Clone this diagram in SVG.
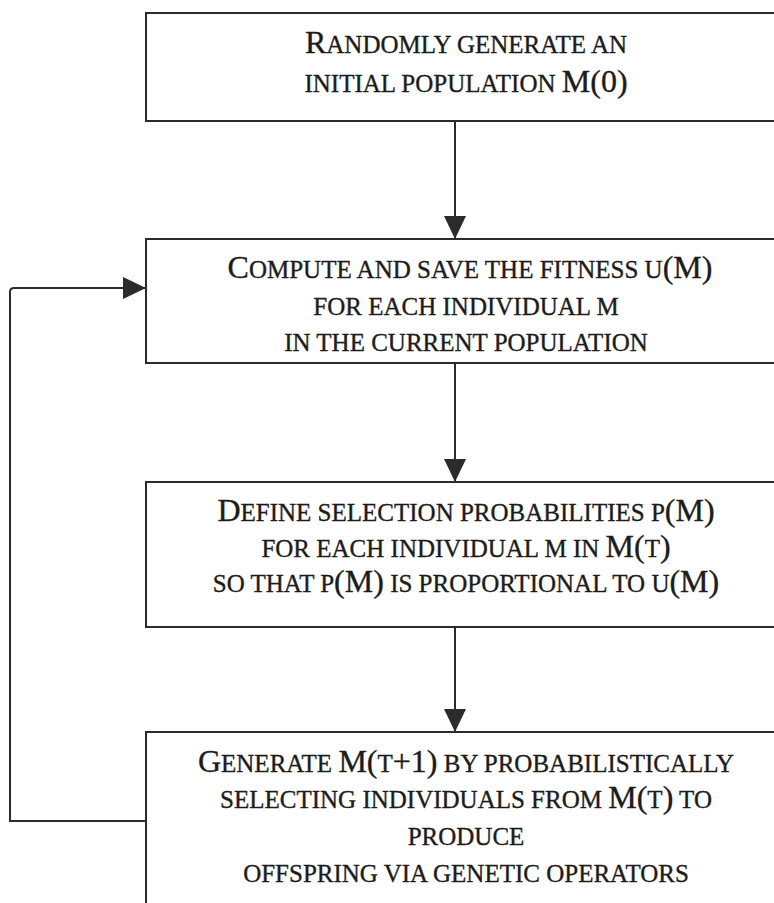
<svg xmlns="http://www.w3.org/2000/svg" width="774" height="903" viewBox="0 0 774 903">
<style>
  .box { fill: #ffffff; stroke: #2b2b2b; stroke-width: 2; }
  .conn { fill: none; stroke: #2b2b2b; stroke-width: 2; }
  text { font-family: "Liberation Serif", "Times New Roman", serif; fill: #1c1c1c; stroke: #1c1c1c; stroke-width: 0.35; text-anchor: middle; }
  .s { font-size: 25px; }
  .b { font-size: 32px; }
</style>
<defs>
  <marker id="arr" markerUnits="userSpaceOnUse" markerWidth="24" markerHeight="24" viewBox="0 0 24 24" refX="23" refY="12" orient="auto">
    <path d="M0,1 L23,12 L0,23 Z" fill="#2b2b2b"/>
  </marker>
</defs>
<rect width="774" height="903" fill="#ffffff"/>

<g id="connectors">
  <line class="conn" x1="455" y1="121" x2="455" y2="239" marker-end="url(#arr)"/>
  <line class="conn" x1="455" y1="363" x2="455" y2="482" marker-end="url(#arr)"/>
  <line class="conn" x1="455" y1="627" x2="455" y2="732" marker-end="url(#arr)"/>
  <path class="conn" d="M146,821 L10,821 L10,292 Q10,288 14,288 L146,288" marker-end="url(#arr)"/>
</g>

<g id="node1">
  <rect class="box" x="146" y="13" width="660" height="108"/>
  <text x="466" y="53"><tspan class="b">R</tspan><tspan class="s">ANDOMLY GENERATE AN</tspan></text>
  <text x="466" y="92"><tspan class="s">INITIAL POPULATION </tspan><tspan class="b">M(0)</tspan></text>
</g>

<g id="node2">
  <rect class="box" x="146" y="239" width="660" height="124"/>
  <text x="470" y="278"><tspan class="b">C</tspan><tspan class="s">OMPUTE AND SAVE THE FITNESS U</tspan><tspan class="b">(M)</tspan></text>
  <text x="466" y="315"><tspan class="s">FOR EACH INDIVIDUAL M</tspan></text>
  <text x="466" y="351"><tspan class="s">IN THE CURRENT POPULATION</tspan></text>
</g>

<g id="node3">
  <rect class="box" x="146" y="482" width="660" height="145"/>
  <text x="466" y="521"><tspan class="b">D</tspan><tspan class="s">EFINE SELECTION PROBABILITIES P</tspan><tspan class="b">(M)</tspan></text>
  <text x="466" y="557"><tspan class="s">FOR EACH INDIVIDUAL M IN </tspan><tspan class="b">M(</tspan><tspan class="s">T</tspan><tspan class="b">)</tspan></text>
  <text x="466" y="592"><tspan class="s">SO THAT P</tspan><tspan class="b">(M)</tspan><tspan class="s"> IS PROPORTIONAL TO U</tspan><tspan class="b">(M)</tspan></text>
</g>

<g id="node4">
  <rect class="box" x="146" y="732" width="660" height="200"/>
  <text x="466" y="772"><tspan class="b">G</tspan><tspan class="s">ENERATE </tspan><tspan class="b">M(</tspan><tspan class="s">T</tspan><tspan class="b">+1)</tspan><tspan class="s"> BY PROBABILISTICALLY</tspan></text>
  <text x="466" y="808"><tspan class="s">SELECTING INDIVIDUALS FROM </tspan><tspan class="b">M(</tspan><tspan class="s">T</tspan><tspan class="b">)</tspan><tspan class="s"> TO</tspan></text>
  <text x="466" y="845"><tspan class="s">PRODUCE</tspan></text>
  <text x="466" y="882"><tspan class="s">OFFSPRING VIA GENETIC OPERATORS</tspan></text>
</g>
</svg>
